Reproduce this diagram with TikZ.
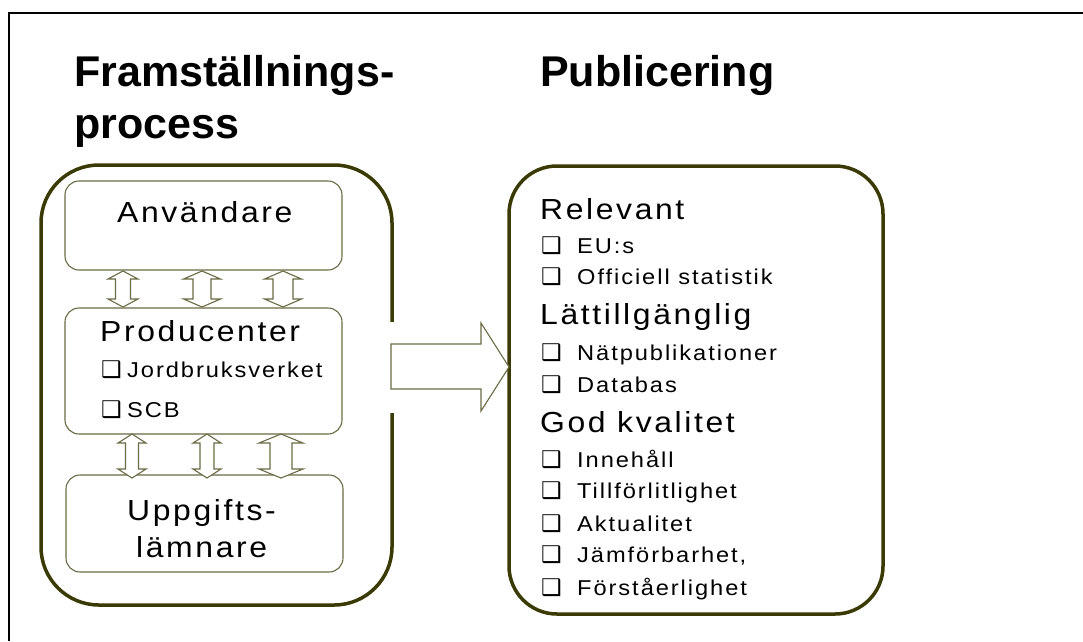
\documentclass[tikz,border=0pt]{standalone}
\usepackage{fontspec}
\setmainfont{Liberation Sans}
\newfontfamily\bodyfont[LetterSpace=9,FakeStretch=1.1]{Liberation Sans}
\newfontfamily\symfont{DejaVu Sans}
\definecolor{olivedark}{HTML}{3A3A05}
\definecolor{olivethin}{HTML}{6B6B45}
\newcommand\chk[1]{\makebox[#1][l]{\symfont\fontsize{23}{25}\selectfont ❑}}
\newcommand\dblarr[6]{%
  \draw[blockarrow] (#1,#2) -- (#1+#4,#2+#6) -- (#1+#5,#2+#6) -- (#1+#5,#3-#6) -- (#1+#4,#3-#6)
   -- (#1,#3) -- (#1-#4,#3-#6) -- (#1-#5,#3-#6) -- (#1-#5,#2+#6) -- (#1-#4,#2+#6) -- cycle;}
\begin{document}
\begin{tikzpicture}[x=1pt,y=-1pt,
  outerbox/.style={draw=olivedark, line width=3.5pt, inner sep=0pt, outer sep=0pt},
  innerbox/.style={draw=olivethin, line width=1.1pt, rounded corners=14pt, inner sep=0pt, outer sep=0pt},
  blockarrow/.style={draw=olivethin, line width=1.1pt, fill=white, line join=miter},
  title/.style={font=\fontsize{43}{52}\selectfont\bfseries, anchor=base west, inner sep=0pt, align=left},
  head/.style={font=\bodyfont\fontsize{29}{37}\selectfont, anchor=base west, inner sep=0pt},
  item/.style={font=\bodyfont\fontsize{21.5}{26}\selectfont, anchor=base west, inner sep=0pt}]
\useasboundingbox (0,0) rectangle (1083,641);
\fill[white] (0,0) rectangle (1083,641);
% frame
\draw[black, line width=2pt] (8.5,641) -- (8.5,13) -- (1083,13);
% titles
\node[title] (t1) at (74,138) {Framställnings-\\[0pt]process};
\node[title] (t2) at (540,86) {Publicering};
% left outer box
\node[outerbox, rounded corners=58pt, minimum width=351pt, minimum height=440pt] (left) at (216.5,385) {};
% inner boxes
\node[innerbox, minimum width=277pt, minimum height=89pt] (anv) at (203.5,225.5) {};
\node[innerbox, minimum width=277pt, minimum height=126pt] (prod) at (203.5,371) {};
\node[innerbox, minimum width=277pt, minimum height=97pt] (upp) at (204.5,523.5) {};
% double arrows
\dblarr{123}{271}{307}{15}{7.5}{8}
\dblarr{202}{271}{307}{18.5}{9}{8}
\dblarr{283}{271}{307}{18.5}{10}{8}
\dblarr{132}{434}{478}{14}{6.5}{9}
\dblarr{207}{434}{478}{14}{7}{9}
\dblarr{281}{434}{478}{22}{11}{9}
% texts left
\node[head] (anvt) at (117,222) {Användare};
\node[head] (prodt) at (100,341) {Producenter};
\node[item] (jb) at (101,377) {\chk{26pt}Jordbruksverket};
\node[item] (scb) at (101,417) {\chk{26pt}SCB};
\node[head] (upt1) at (127,520) {Uppgifts-};
\node[head] (upt2) at (136,557) {lämnare};
% right box
\node[outerbox, rounded corners=48pt, minimum width=374pt, minimum height=448pt] (right) at (696,390) {};
% big arrow
\fill[white] (388,322) rectangle (396,413);
\coordinate (bigtail) at (391,367);
\draw[blockarrow] (391,344) -- (481,344) -- (481,323) -- (right.west |- bigtail) -- (481,411) -- (481,389) -- (391,389) -- cycle;
% right texts
\node[head] (rel) at (540,219) {Relevant};
\node[item] (eu) at (541,253) {\chk{36pt}EU:s};
\node[item] (off) at (541,284) {\chk{36pt}Officiell statistik};
\node[head] (latt) at (540,324) {Lättillgänglig};
\node[item] (nat) at (541,360) {\chk{36pt}Nätpublikationer};
\node[item] (db) at (541,392) {\chk{36pt}Databas};
\node[head] (god) at (540,432) {God kvalitet};
\node[item] (inn) at (541,467) {\chk{36pt}Innehåll};
\node[item] (till) at (541,498) {\chk{36pt}Tillförlitlighet};
\node[item] (akt) at (541,531) {\chk{36pt}Aktualitet};
\node[item] (jam) at (541,562) {\chk{36pt}Jämförbarhet,};
\node[item] (for) at (541,595) {\chk{36pt}Förståerlighet};
\end{tikzpicture}
\end{document}
